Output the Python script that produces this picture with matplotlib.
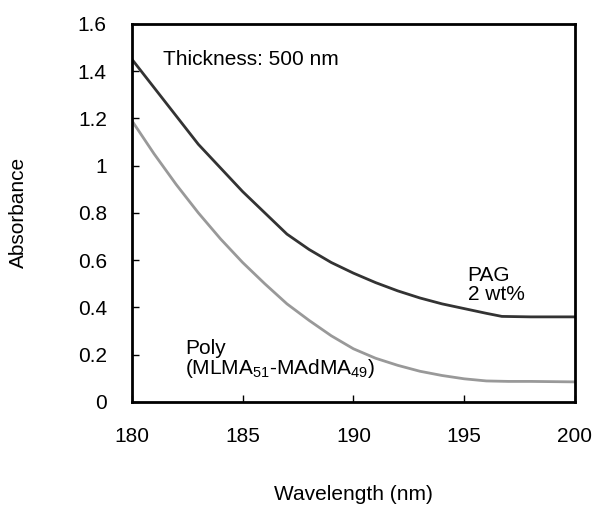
import matplotlib
matplotlib.use('Agg')
import matplotlib.pyplot as plt

plt.rcParams['font.family'] = ['Liberation Sans', 'DejaVu Sans']
plt.rcParams['mathtext.fontset'] = 'custom'
plt.rcParams['mathtext.rm'] = 'Liberation Sans'
plt.rcParams['mathtext.it'] = 'Liberation Sans'

# PAG 2 wt% film (dark curve)
wl_pag = [180, 181, 182, 183, 184, 185, 186, 187, 188, 189, 190, 191, 192, 193, 194, 195, 196, 196.7, 198, 200]
abs_pag = [1.45, 1.33, 1.21, 1.09, 0.99, 0.89, 0.80, 0.71, 0.645, 0.59, 0.545, 0.505, 0.47, 0.44, 0.415, 0.395, 0.375, 0.362, 0.36, 0.36]

# Poly(MLMA51-MAdMA49) film (gray curve)
wl_poly = [180, 181, 182, 183, 184, 185, 186, 187, 188, 189, 190, 191, 192, 193, 194, 195, 196, 197, 198, 200]
abs_poly = [1.19, 1.05, 0.92, 0.80, 0.69, 0.59, 0.50, 0.415, 0.345, 0.28, 0.225, 0.185, 0.155, 0.13, 0.112, 0.098, 0.089, 0.087, 0.087, 0.085]

x_ticks = [180, 185, 190, 195, 200]
y_ticks = [0, 0.2, 0.4, 0.6, 0.8, 1.0, 1.2, 1.4, 1.6]
y_tick_labels = ['0', '0.2', '0.4', '0.6', '0.8', '1', '1.2', '1.4', '1.6']

fig = plt.figure(figsize=(5.94, 5.05), dpi=100)
ax = fig.add_axes([0.222, 0.204, 0.746, 0.749])

ax.plot(wl_pag, abs_pag, color='#333333', lw=2)
ax.plot(wl_poly, abs_poly, color='#999999', lw=2)

ax.set_xlim(180, 200)
ax.set_ylim(0, 1.6)
ax.set_xticks(x_ticks)
ax.set_yticks(y_ticks)
ax.set_yticklabels(y_tick_labels)
ax.tick_params(direction='in', length=5, width=1, labelsize=15, pad=18)
for s in ax.spines.values():
    s.set_linewidth(2)

ax.set_xlabel('Wavelength (nm)', fontsize=15, labelpad=28)
ax.set_ylabel('Absorbance', fontsize=15, labelpad=36)

ax.text(181.4, 1.45, 'Thickness: 500 nm', fontsize=15, va='center')
ax.text(195.15, 0.495, 'PAG\n2 wt%', fontsize=15, va='center', linespacing=0.95)
ax.text(182.4, 0.178, 'Poly\n(MLMA$_{51}$-MAdMA$_{49}$)', fontsize=15, va='center', linespacing=0.95)

fig.savefig('out.png', dpi=100)
